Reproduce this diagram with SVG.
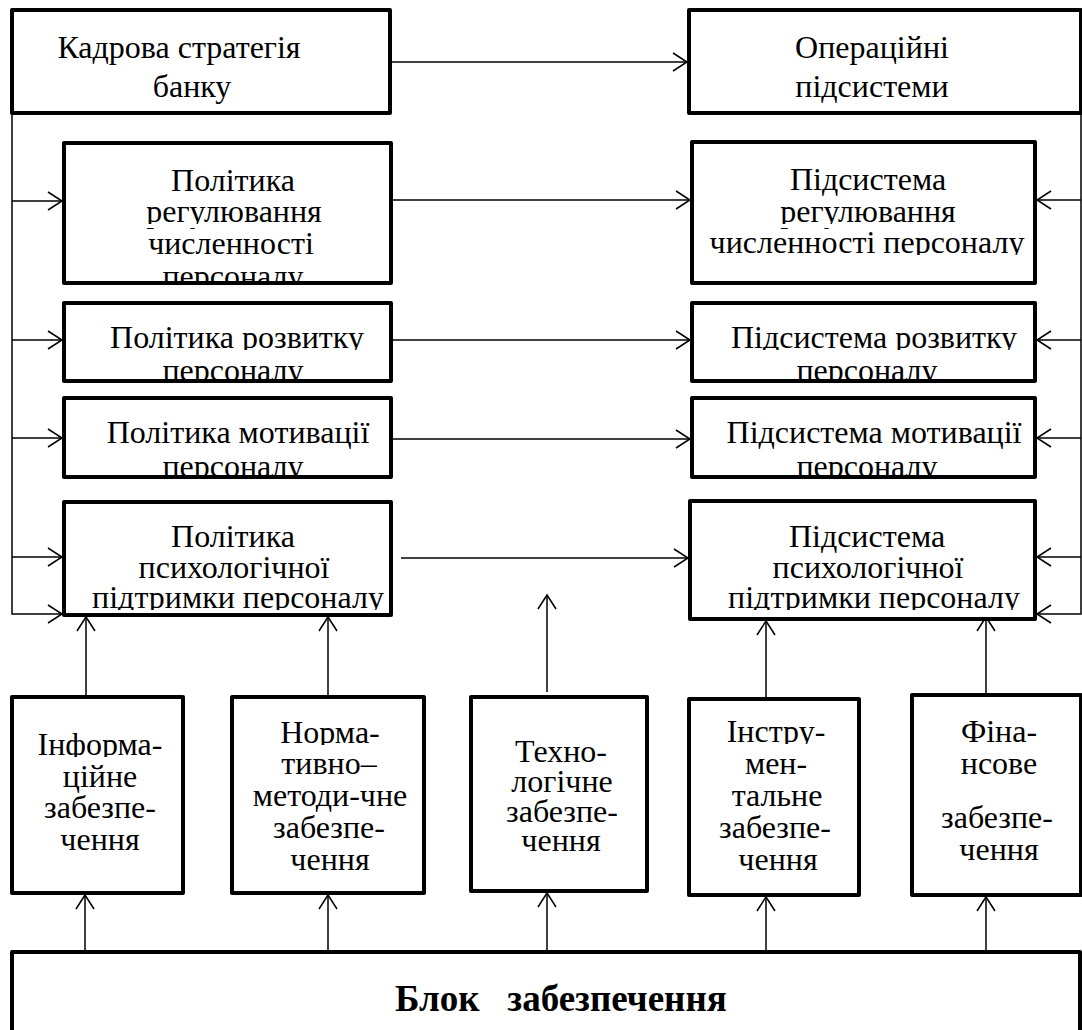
<svg xmlns="http://www.w3.org/2000/svg" width="1082" height="1030" viewBox="0 0 1082 1030">
<style>
.box{fill:#fff;stroke:#000;stroke-width:4;stroke-linejoin:round}
.t{font-family:"Liberation Serif","Times New Roman",serif;font-size:32px;fill:#000;text-anchor:middle}
.b{font-family:"Liberation Serif","Times New Roman",serif;font-size:37px;font-weight:bold;fill:#000;white-space:pre}
.c{fill:none;stroke:#000;stroke-width:1.5;marker-end:url(#ah)}
</style>
<defs>
<marker id="ah" markerUnits="userSpaceOnUse" markerWidth="20" markerHeight="20" refX="0" refY="0" orient="auto" overflow="visible">
<path d="M-14,-9 L0,0 L-14,9" fill="none" stroke="#000" stroke-width="1.5"/>
</marker>
<clipPath id="kP1"><rect x="62" y="141" width="331" height="83"/><rect x="62" y="228" width="331" height="57"/></clipPath>
<clipPath id="kP2"><rect x="62" y="301" width="331" height="49"/><rect x="62" y="356" width="331" height="27"/></clipPath>
<clipPath id="kP3"><rect x="62" y="396" width="331" height="83"/></clipPath>
<clipPath id="kP4"><rect x="62" y="500" width="331" height="110"/></clipPath>
<clipPath id="kS1"><rect x="690" y="140" width="347" height="84"/><rect x="690" y="228" width="347" height="27"/></clipPath>
<clipPath id="kS2"><rect x="690" y="301" width="347" height="49"/><rect x="690" y="356" width="347" height="27"/></clipPath>
<clipPath id="kS3"><rect x="690" y="396" width="347" height="83"/></clipPath>
<clipPath id="kS4"><rect x="688" y="499" width="349" height="111"/></clipPath>
<clipPath id="kA"><rect x="10" y="695" width="175" height="62"/><rect x="10" y="762" width="175" height="133"/></clipPath>
<clipPath id="kB"><rect x="230" y="695" width="196" height="50"/><rect x="230" y="752" width="196" height="143"/></clipPath>
<clipPath id="kD"><rect x="687" y="697" width="174" height="47"/><rect x="687" y="752" width="174" height="145"/></clipPath>
</defs>

<g id="connectors">
<path class="c" d="M390,62 H687"/>
<path class="c" d="M391,200 H690"/>
<path class="c" d="M391,340 H690"/>
<path class="c" d="M391,439 H690"/>
<path class="c" d="M401,558 H688"/>
<path class="c" d="M12,113 V614 H62"/>
<path class="c" d="M12,201 H62"/>
<path class="c" d="M12,340 H62"/>
<path class="c" d="M12,438 H62"/>
<path class="c" d="M12,557 H62"/>
<path class="c" d="M1081,113 V614 H1037"/>
<path class="c" d="M1081,200 H1037"/>
<path class="c" d="M1081,340 H1037"/>
<path class="c" d="M1081,438 H1037"/>
<path class="c" d="M1081,557 H1037"/>
<path class="c" d="M86,695 V617"/>
<path class="c" d="M328,695 V617"/>
<path class="c" d="M547,692 V595"/>
<path class="c" d="M766,698 V621"/>
<path class="c" d="M986,693 V617"/>
<path class="c" d="M85,950 V895"/>
<path class="c" d="M328,950 V895"/>
<path class="c" d="M547,950 V893"/>
<path class="c" d="M766,950 V897"/>
<path class="c" d="M986,950 V897"/>
</g>

<g id="kadrova">
<rect class="box" x="12" y="10" width="378" height="103"/>
<text class="t"><tspan x="179" y="58">Кадрова стратегія</tspan><tspan x="192" y="97">банку</tspan></text>
</g>

<g id="operatsiini">
<rect class="box" x="689" y="10" width="392" height="103"/>
<text class="t"><tspan x="872" y="58">Операційні</tspan><tspan x="872" y="97">підсистеми</tspan></text>
</g>

<g id="polityka-chyselnist">
<rect class="box" x="64" y="143" width="327" height="140"/>
<g clip-path="url(#kP1)">
<text class="t"><tspan x="233" y="191">Політика</tspan><tspan x="234" y="222">регулювання</tspan><tspan x="231" y="254">численності</tspan><tspan x="233" y="287">персоналу</tspan></text>
</g>
</g>

<g id="polityka-rozvytok">
<rect class="box" x="64" y="303" width="327" height="78"/>
<g clip-path="url(#kP2)">
<text class="t"><tspan x="237" y="348">Політика розвитку</tspan><tspan x="233" y="381">персоналу</tspan></text>
</g>
</g>

<g id="polityka-motyvatsiia">
<rect class="box" x="64" y="398" width="327" height="79"/>
<g clip-path="url(#kP3)">
<text class="t"><tspan x="238" y="443">Політика мотивації</tspan><tspan x="233" y="477">персоналу</tspan></text>
</g>
</g>

<g id="polityka-psykholohichna">
<rect class="box" x="64" y="502" width="327" height="113"/>
<g clip-path="url(#kP4)">
<text class="t"><tspan x="233" y="547">Політика</tspan><tspan x="234" y="578">психологічної</tspan><tspan x="238" y="608">підтримки персоналу</tspan></text>
</g>
</g>

<g id="pidsystema-chyselnist">
<rect class="box" x="692" y="142" width="343" height="141"/>
<g clip-path="url(#kS1)">
<text class="t"><tspan x="868" y="190">Підсистема</tspan><tspan x="868" y="222">регулювання</tspan><tspan x="867" y="253">численності персоналу</tspan></text>
</g>
</g>

<g id="pidsystema-rozvytok">
<rect class="box" x="692" y="303" width="343" height="78"/>
<g clip-path="url(#kS2)">
<text class="t"><tspan x="874" y="348">Підсистема розвитку</tspan><tspan x="867" y="381">персоналу</tspan></text>
</g>
</g>

<g id="pidsystema-motyvatsiia">
<rect class="box" x="692" y="398" width="343" height="79"/>
<g clip-path="url(#kS3)">
<text class="t"><tspan x="874" y="443">Підсистема мотивації</tspan><tspan x="867" y="477">персоналу</tspan></text>
</g>
</g>

<g id="pidsystema-psykholohichna">
<rect class="box" x="690" y="501" width="345" height="118"/>
<g clip-path="url(#kS4)">
<text class="t"><tspan x="867" y="547">Підсистема</tspan><tspan x="868" y="578">психологічної</tspan><tspan x="874" y="608">підтримки персоналу</tspan></text>
</g>
</g>

<g id="informatsiine">
<rect class="box" x="12" y="697" width="171" height="196"/>
<g clip-path="url(#kA)">
<text class="t"><tspan x="100" y="755">Інформа-</tspan><tspan x="100" y="787">ційне</tspan><tspan x="100" y="818">забезпе-</tspan><tspan x="100" y="850">чення</tspan></text>
</g>
</g>

<g id="normatyvno">
<rect class="box" x="232" y="697" width="192" height="196"/>
<g clip-path="url(#kB)">
<text class="t"><tspan x="330" y="743">Норма-</tspan><tspan x="329" y="774">тивно–</tspan><tspan x="330" y="806">методи-чне</tspan><tspan x="329" y="838">забезпе-</tspan><tspan x="330" y="870">чення</tspan></text>
</g>
</g>

<g id="tekhnolohichne">
<rect class="box" x="471" y="697" width="176" height="194"/>
<text class="t"><tspan x="561" y="762">Техно-</tspan><tspan x="562" y="792">логічне</tspan><tspan x="562" y="822">забезпе-</tspan><tspan x="561" y="851">чення</tspan></text>
</g>

<g id="instrumentalne">
<rect class="box" x="689" y="699" width="170" height="196"/>
<g clip-path="url(#kD)">
<text class="t"><tspan x="776" y="742">Інстру-</tspan><tspan x="776" y="774">мен-</tspan><tspan x="777" y="806">тальне</tspan><tspan x="775" y="838">забезпе-</tspan><tspan x="778" y="870">чення</tspan></text>
</g>
</g>

<g id="finansove">
<rect class="box" x="912" y="695" width="169" height="200"/>
<text class="t"><tspan x="999" y="742">Фіна-</tspan><tspan x="999" y="774">нсове</tspan><tspan x="997" y="828">забезпе-</tspan><tspan x="999" y="860">чення</tspan></text>
</g>

<g id="blok">
<rect class="box" x="12" y="952" width="1068" height="100"/>
<text class="b" x="395" y="1011">Блок   забезпечення</text>
</g>
</svg>
